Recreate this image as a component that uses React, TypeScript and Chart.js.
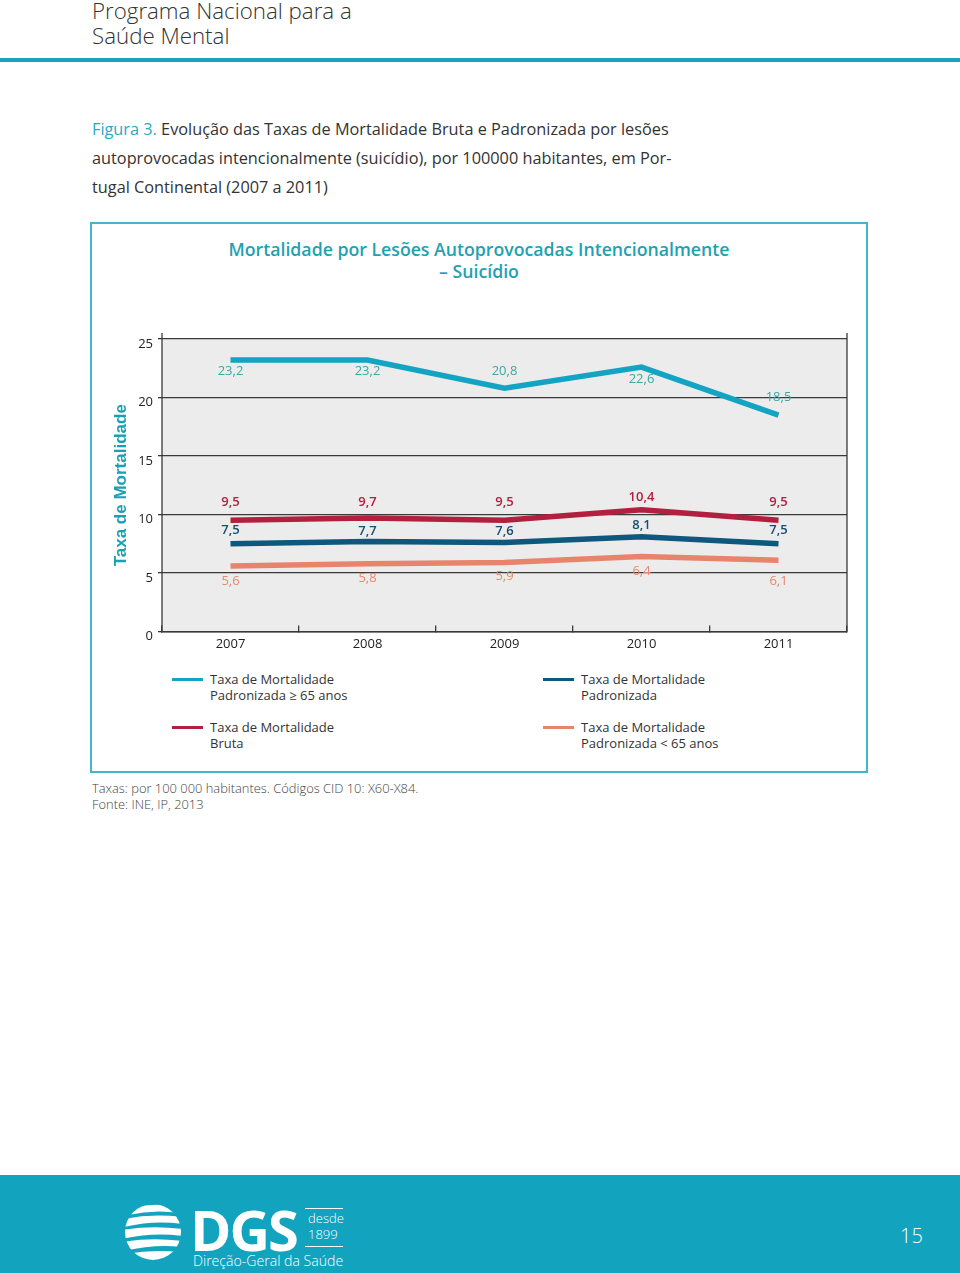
import React, { useEffect, useRef } from 'react';
import { Chart, registerables } from 'chart.js';

Chart.register(...registerables);

// ---------- data ----------
const years = ['2007', '2008', '2009', '2010', '2011'];
const padronizada65Mais = [23.2, 23.2, 20.8, 22.6, 18.5];
const bruta = [9.5, 9.7, 9.5, 10.4, 9.5];
const padronizada = [7.5, 7.7, 7.6, 8.1, 7.5];
const padronizada65Menos = [5.6, 5.8, 5.9, 6.4, 6.1];
const yTickValues = [0, 5, 10, 15, 20, 25];

const seriesNames = [
  ['Taxa de Mortalidade', 'Padronizada ≥ 65 anos'],
  ['Taxa de Mortalidade', 'Bruta'],
  ['Taxa de Mortalidade', 'Padronizada'],
  ['Taxa de Mortalidade', 'Padronizada < 65 anos'],
];

// value-label placement (style only): vertical shift from the point, px
const labelShift65Mais = [11, 11, -17, 12, -18];
const labelShiftBruta = [-18, -16, -18, -13, -18];
const labelShiftPadronizada = [-13, -10.5, -11.5, -11.5, -13];
const labelShift65Menos = [15, 14.5, 13.5, 14.5, 21];

const TEAL = '#12a4c2';
const CRIMSON = '#b3203f';
const NAVY = '#0d587c';
const SALMON = '#e8846c';

const FONT = '"Open Sans", "Noto Sans", sans-serif';

const bgPlugin = {
  id: 'plotBg',
  beforeDraw(chart: any) {
    const { ctx, chartArea } = chart;
    ctx.save();
    ctx.fillStyle = '#ececec';
    ctx.fillRect(chartArea.left, chartArea.top, chartArea.right - chartArea.left, chartArea.bottom - chartArea.top);
    ctx.restore();
  },
  afterDraw(chart: any) {
    const { ctx, chartArea } = chart;
    ctx.save();
    ctx.strokeStyle = '#3a3a3a';
    ctx.lineWidth = 1.3;
    [chartArea.left, chartArea.right].forEach((x: number) => {
      ctx.beginPath();
      ctx.moveTo(x, chartArea.top - 6);
      ctx.lineTo(x, chartArea.bottom);
      ctx.stroke();
    });
    ctx.restore();
  },
};

const labelPlugin = {
  id: 'pointLabels',
  afterDatasetsDraw(chart: any) {
    const { ctx } = chart;
    chart.data.datasets.forEach((ds: any, i: number) => {
      const meta = chart.getDatasetMeta(i);
      ctx.save();
      ctx.font = `${ds.labelWeight} 13px ${FONT}`;
      ctx.fillStyle = ds.labelColor;
      ctx.textAlign = 'center';
      ctx.textBaseline = 'middle';
      meta.data.forEach((pt: any, j: number) => {
        const txt = Number(ds.data[j]).toFixed(1).replace('.', ',');
        ctx.fillText(txt, pt.x, pt.y + ds.labelShift[j]);
      });
      ctx.restore();
    });
  },
};

function ChartCanvas() {
  const ref = useRef<HTMLCanvasElement | null>(null);
  useEffect(() => {
    if (!ref.current) return;
    const mk = (label: string, data: number[], color: string, labelColor: string, shift: number[], weight: number) => ({
      label,
      data,
      borderColor: color,
      backgroundColor: color,
      borderWidth: 5.5,
      borderCapStyle: 'butt',
      borderJoinStyle: 'miter',
      pointRadius: 0,
      tension: 0,
      fill: false,
      labelColor,
      labelShift: shift,
      labelWeight: weight,
    });
    const chart = new Chart(ref.current, {
      type: 'line',
      data: {
        labels: years,
        datasets: [
          mk(seriesNames[0].join(' '), padronizada65Mais, TEAL, '#3aa8a4', labelShift65Mais, 400),
          mk(seriesNames[1].join(' '), bruta, CRIMSON, CRIMSON, labelShiftBruta, 600),
          mk(seriesNames[2].join(' '), padronizada, NAVY, '#134f70', labelShiftPadronizada, 600),
          mk(seriesNames[3].join(' '), padronizada65Menos, SALMON, '#e58a6f', labelShift65Menos, 400),
        ] as any,
      },
      options: {
        animation: false,
        responsive: false,
        maintainAspectRatio: false,
        layout: { padding: { top: 47, right: 19, left: 0, bottom: 0 } },
        plugins: {
          legend: { display: false },
          tooltip: { enabled: false },
          title: { display: false },
        },
        scales: {
          x: {
            type: 'category',
            offset: true,
            grid: {
              offset: true,
              drawOnChartArea: false,
              drawTicks: true,
              tickLength: -6,
              color: '#3a3a3a',
              lineWidth: 1.3,
            },
            border: { display: true, color: '#3a3a3a', width: 1.5 },
            ticks: {
              color: '#222',
              font: { family: FONT, size: 13 },
              padding: 11,
              maxRotation: 0,
            },
            afterFit(scale: any) {
              scale.height = 30.5;
            },
          },
          y: {
            min: 0,
            max: 25,
            afterBuildTicks(scale: any) {
              scale.ticks = yTickValues.map((v) => ({ value: v }));
            },
            grid: {
              color: '#3a3a3a',
              lineWidth: 1.3,
              drawTicks: true,
              tickLength: 4,
            },
            border: { display: false },
            ticks: {
              color: '#222',
              font: { family: FONT, size: 13 },
              padding: 5,
              labelOffset: 5,
            },
            title: {
              display: true,
              text: 'Taxa de Mortalidade',
              color: '#1aa0b5',
              font: { family: '"Liberation Sans", Arial, sans-serif', size: 17, weight: 'bold' },
              padding: { top: 19, bottom: 0 },
            },
            afterFit(scale: any) {
              scale.width = 70;
            },
          },
        },
      } as any,
      plugins: [bgPlugin, labelPlugin],
    });
    return () => chart.destroy();
  }, []);
  return <canvas ref={ref} width={774} height={370} style={{ position: 'absolute', left: 92, top: 292, width: 774, height: 370 }} />;
}

function Globe() {
  return (
    <svg width="62" height="60" viewBox="0 0 62 60" style={{ position: 'absolute', left: 122, top: 1202 }}>
      <defs>
        <clipPath id="gclip">
          <ellipse cx="31" cy="30" rx="28" ry="28" />
        </clipPath>
      </defs>
      <g clipPath="url(#gclip)" fill="#ffffff">
        <path d="M10 6 Q32 0 56 5 L58 11 Q32 7 6 13 Z" />
        <path d="M2 17 Q30 11 60 15 L60 22 Q32 18 2 25 Z" />
        <path d="M0 28 Q30 23 60 27 L60 34 Q30 30 0 37 Z" />
        <path d="M0 40 Q30 35 60 39 L60 45 Q32 42 2 49 Z" />
        <path d="M4 52 Q30 47 58 50 L56 60 L6 60 Z" />
      </g>
    </svg>
  );
}

const legendItems = [
  { color: TEAL, lines: seriesNames[0], left: 172, top: 671 },
  { color: NAVY, lines: seriesNames[2], left: 543, top: 671 },
  { color: CRIMSON, lines: seriesNames[1], left: 172, top: 719 },
  { color: SALMON, lines: seriesNames[3], left: 543, top: 719 },
];

export default function App() {
  return (
    <div style={{ position: 'absolute', left: 0, top: 0, width: 960, height: 1273, background: '#fff', overflow: 'hidden', fontFamily: FONT }}>
      {/* header */}
      <div style={{ position: 'absolute', left: 92, top: -2, fontSize: 22.3, lineHeight: '25px', fontWeight: 300, color: '#333', whiteSpace: 'nowrap' }}>
        Programa Nacional para a<br />Saúde Mental
      </div>
      <div style={{ position: 'absolute', left: 0, top: 58, width: 960, height: 4, background: '#1aa3c0' }} />

      {/* caption */}
      <div style={{ position: 'absolute', left: 92, top: 114.5, fontSize: 16.3, lineHeight: '29px', color: '#333', whiteSpace: 'nowrap' }}>
        <span style={{ color: '#29a9c4' }}>Figura 3.</span> Evolução das Taxas de Mortalidade Bruta e Padronizada por lesões<br />
        autoprovocadas intencionalmente (suicídio), por 100000 habitantes, em Por-<br />
        tugal Continental (2007 a 2011)
      </div>

      {/* chart box */}
      <div style={{ position: 'absolute', left: 90, top: 222, width: 778, height: 551, border: '2px solid #3fb8cc', boxSizing: 'border-box' }} />
      <div style={{ position: 'absolute', left: 90, width: 778, top: 238, textAlign: 'center', fontSize: 17.7, lineHeight: '22px', fontWeight: 600, color: '#1ea1b3' }}>
        Mortalidade por Lesões Autoprovocadas Intencionalmente<br />– Suicídio
      </div>
      <ChartCanvas />

      {/* legend */}
      {legendItems.map((it, i) => (
        <div key={i}>
          <div style={{ position: 'absolute', left: it.left, top: it.top + 7, width: 31, height: 3, background: it.color }} />
          <div style={{ position: 'absolute', left: it.left + 38, top: it.top, fontSize: 13, lineHeight: '16px', color: '#333', whiteSpace: 'nowrap' }}>
            {it.lines[0]}<br />{it.lines[1]}
          </div>
        </div>
      ))}

      {/* notes */}
      <div style={{ position: 'absolute', left: 92, top: 780, fontSize: 12.9, lineHeight: '16px', fontWeight: 300, color: '#444', whiteSpace: 'nowrap' }}>
        Taxas: por 100 000 habitantes. Códigos CID 10: X60-X84.<br />Fonte: INE, IP, 2013
      </div>

      {/* footer */}
      <div style={{ position: 'absolute', left: 0, top: 1175, width: 960, height: 98, background: '#12a3be' }} />
      <Globe />
      <div style={{ position: 'absolute', left: 190, top: 1196, fontSize: 56, fontWeight: 700, color: '#fff', lineHeight: '66px', letterSpacing: -2 }}>DGS</div>
      <div style={{ position: 'absolute', left: 305, top: 1208, width: 38, height: 1, background: '#fff' }} />
      <div style={{ position: 'absolute', left: 308, top: 1210, fontSize: 13, lineHeight: '16px', color: '#fff', fontWeight: 300 }}>desde<br />1899</div>
      <div style={{ position: 'absolute', left: 305, top: 1246, width: 38, height: 1, background: '#fff' }} />
      <div style={{ position: 'absolute', left: 193, top: 1251, fontSize: 14.1, lineHeight: '20px', color: '#fff', fontWeight: 300, whiteSpace: 'nowrap' }}>Direção-Geral da Saúde</div>
      <div style={{ position: 'absolute', left: 900, top: 1223, fontSize: 20, lineHeight: '26px', color: '#fff', fontWeight: 300 }}>15</div>
    </div>
  );
}
